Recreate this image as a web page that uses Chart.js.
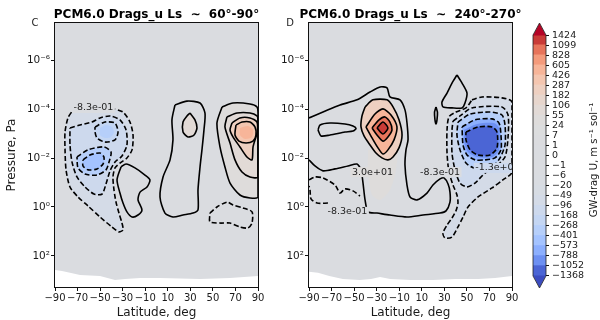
<!DOCTYPE html>
<html><head><meta charset="utf-8">
<script src="https://cdn.jsdelivr.net/npm/chart.js@4.4.1/dist/chart.umd.min.js"></script>
<style>
html,body{margin:0;padding:0;background:#fff;}
#wrap{position:relative;width:600px;height:320px;overflow:hidden;background:#fff;}
.c{position:absolute;top:0;}
</style></head><body>
<div id="wrap">
<canvas id="cL" class="c" width="280" height="320" style="left:0px"></canvas>
<canvas id="cR" class="c" width="260" height="320" style="left:266px"></canvas>
<canvas id="cB" class="c" width="80" height="320" style="left:520px"></canvas>
</div>
<script>
// ---------------- data ----------------
// contour levels of the colour bar (m s-1 sol-1)
const LEVELS = [-1368,-1052,-788,-573,-401,-268,-168,-96,-49,-20,-6,-1,0,1,7,24,55,106,182,287,426,605,828,1099,1424];
const LEVEL_LABELS = LEVELS.map(v => String(v).replace('-', '\u2212'));
// latitude axis
const X_TICKS = [-90,-70,-50,-30,-10,10,30,50,70,90];
const X_TICK_LABELS = X_TICKS.map(v => String(v).replace('-', '\u2212'));
// pressure axis (log10 Pa)
const Y_TICKS = [-6,-4,-2,0,2];
const Y_TICK_LABELS = ['10\u207B\u2076','10\u207B\u2074','10\u207B\u00B2','10\u2070','10\u00B2'];
const Y_RANGE = [-7.54, 3.28];

// surface (log10 Pa) vs latitude, below which there are no data
const leftSurfLat  = [-90,-83.8,-76.7,-67.8,-50.1,-36.8,-27.9,-14.6,3.1,38.6,65.2,90];
const leftSurfLogP = [2.58,2.62,2.70,2.79,2.83,2.99,2.95,2.91,2.91,2.95,2.91,2.83];
const rightSurfLat  = [-90,-82,-72,-60,-45,-35,-27,-18,0,20,40,60,75,90];
const rightSurfLogP = [2.66,2.70,2.83,2.95,2.99,2.95,2.87,2.95,2.99,2.99,2.95,2.95,2.91,2.83];

// ---- panel C (Ls 60-90): contours as [lat, log10 p] ----
const leftN1 = [[-74.0,-3.98],[-54.5,-4.02],[-38.6,-4.02],[-29.7,-3.89],[-23.5,-3.48],[-20.8,-2.95],[-21.7,-2.34],[-26.2,-2.01],[-32.4,-1.80],[-36.8,-1.60],[-38.6,-1.23],[-37.7,-0.70],[-35.9,-0.20],[-33.3,0.25],[-30.6,0.66],[-29.7,0.94],[-33.3,1.02],[-39.5,0.82],[-50.1,0.41],[-60.7,-0.04],[-69.6,-0.41],[-76.7,-0.82],[-80.2,-1.52],[-81.1,-2.34],[-81.1,-3.07],[-78.5,-3.65]];
const leftN2 = [[-76.7,-3.24],[-67.8,-3.36],[-57.2,-3.48],[-50.1,-3.65],[-41.2,-3.73],[-32.4,-3.57],[-27.0,-3.16],[-26.2,-2.54],[-30.6,-2.09],[-36.8,-1.84],[-41.2,-1.48],[-44.8,-0.94],[-48.3,-0.53],[-55.4,-0.53],[-63.4,-0.82],[-70.5,-1.23],[-74.9,-1.84],[-76.7,-2.54]];
const leftU1 = [[-54.5,-3.28],[-45.7,-3.48],[-36.8,-3.44],[-34.1,-3.07],[-36.8,-2.75],[-45.7,-2.66],[-52.8,-2.83],[-54.5,-3.07]];
const leftU1core = [[-50.1,-3.24],[-44.8,-3.36],[-39.5,-3.28],[-37.7,-3.07],[-40.3,-2.87],[-45.7,-2.83],[-50.1,-2.95]];
const leftL1 = [[-70.5,-2.05],[-60.7,-2.34],[-46.6,-2.46],[-40.3,-2.25],[-42.1,-1.84],[-44.8,-1.52],[-52.8,-1.31],[-63.4,-1.35],[-69.6,-1.60]];
const leftL2 = [[-65.2,-1.93],[-59.0,-2.13],[-50.1,-2.21],[-46.6,-2.05],[-47.4,-1.76],[-52.8,-1.56],[-60.7,-1.52],[-65.2,-1.68]];
const leftA = [[-31.5,-1.64],[-27.0,-1.76],[-19.1,-1.60],[-10.2,-1.31],[-5.8,-1.11],[-8.4,-0.82],[-14.6,-0.61],[-16.4,-0.29],[-12.9,0.12],[-16.4,0.33],[-21.7,0.41],[-26.2,0.20],[-29.7,-0.16],[-32.4,-0.57],[-35.0,-1.11]];
const leftB = [[16.4,-4.18],[27.0,-4.34],[38.6,-4.26],[43.0,-3.85],[42.1,-3.16],[40.3,-2.34],[38.6,-1.64],[36.8,-0.70],[36.8,0.12],[32.4,0.25],[23.5,0.33],[14.6,0.41],[7.5,0.25],[3.1,-0.41],[5.8,-1.23],[12.0,-1.93],[14.6,-2.75],[13.7,-3.57]];
const leftBin = [[29.7,-3.85],[34.1,-3.57],[35.9,-3.24],[33.3,-2.95],[27.9,-2.87],[23.5,-3.07],[23.5,-3.48],[27.0,-3.73]];
const leftP1 = [[58.1,-4.10],[67.8,-4.26],[82.9,-4.22],[89.1,-4.10],[90,-3.85],[90,-0.41],[82.9,-0.37],[74.0,-0.49],[65.2,-0.98],[60.7,-1.64],[56.3,-2.46],[53.6,-3.44]];
const leftP2 = [[62.5,-3.69],[71.4,-3.85],[82.9,-3.85],[89.1,-3.73],[90,-3.57],[90,-1.23],[82.9,-1.23],[75.8,-1.43],[69.6,-1.93],[65.2,-2.62],[60.7,-3.28]];
const leftP3 = [[66.9,-3.44],[74.0,-3.65],[82.9,-3.65],[89.1,-3.48],[89.1,-3.03],[85.6,-2.46],[84.7,-1.93],[80.2,-2.05],[74.0,-2.46],[67.8,-2.87],[65.2,-3.16]];
const leftP4 = [[70.5,-3.36],[75.8,-3.48],[82.9,-3.48],[87.3,-3.28],[88.2,-2.95],[85.6,-2.70],[79.4,-2.62],[73.1,-2.70],[69.6,-2.95]];
const leftPcore = [[74.0,-3.24],[81.1,-3.32],[85.6,-3.16],[84.7,-2.87],[78.5,-2.79],[74.0,-2.95]];
const leftD = [[47.4,0.25],[53.6,0],[62.5,-0.20],[67.8,-0.08],[76.7,0.04],[84.7,0.20],[84.7,0.66],[81.1,0.86],[74.0,0.82],[65.2,0.66],[56.3,0.66],[47.4,0.61]];

// ---- panel D (Ls 240-270) ----
const rightC1 = [[-90,-3.65],[-77.6,-3.89],[-62.5,-4.18],[-47.4,-4.39],[-35.9,-4.71],[-27.0,-4.92],[-20.8,-4.88],[-18.2,-4.51],[-9.3,-4.39],[-4.9,-3.98],[-3.1,-3.44],[-2.2,-2.75],[-4.0,-2.34],[-4.9,-1.72],[-3.1,-0.90],[-0.4,-0.41],[5.8,-0.29],[14.6,-0.57],[19.9,-0.90],[26.2,-1.15],[29.7,-1.19],[33.3,-0.94],[35.0,-0.61],[35.0,-0.20],[31.5,0.16],[26.2,0.25],[11.1,0.33],[-3.1,0.41],[-18.2,0.33],[-29.7,0.25],[-37.7,0.20],[-40.3,-0.29],[-42.1,-0.98],[-43.9,-1.52],[-47.4,-1.76],[-55.4,-1.68],[-66.9,-1.56],[-77.6,-1.48],[-84.7,-1.68],[-90,-1.93]];
const rightStreak = [[-37.7,-2.34],[-12.9,-2.34],[-12.9,-1.52],[-18.2,-0.70],[-27.0,-0.29],[-34.1,-0.49],[-37.7,-1.31]];
const rightTongue = [[-82.0,-3.16],[-80.2,-3.36],[-71.4,-3.44],[-58.1,-3.40],[-51.0,-3.32],[-48.3,-3.22],[-51.0,-3.11],[-58.1,-3.07],[-71.4,-2.95],[-79.4,-2.91]];
const rightC2 = [[-40.3,-4.10],[-33.3,-4.39],[-20.8,-4.39],[-15.5,-4.10],[-10.2,-3.57],[-7.5,-2.95],[-10.2,-2.42],[-15.5,-2.05],[-20.0,-1.93],[-25.3,-2.01],[-30.6,-2.21],[-35.9,-2.54],[-41.2,-2.91],[-43.9,-3.28],[-43.0,-3.73]];
const rightC3 = [[-39.5,-3.28],[-31.5,-3.81],[-24.4,-4.02],[-17.3,-3.77],[-12.0,-3.28],[-14.6,-2.75],[-20.0,-2.34],[-24.4,-2.17],[-28.8,-2.42],[-34.1,-2.83]];
const rightC4 = [[-34.1,-3.24],[-27.9,-3.57],[-22.6,-3.69],[-18.2,-3.48],[-16.4,-3.16],[-20.0,-2.87],[-24.4,-2.70],[-29.7,-2.95]];
const rightC5 = [[-29.7,-3.24],[-24.4,-3.48],[-20.0,-3.24],[-24.4,-2.99]];
const rightTri = [[41.2,-5.41],[45.7,-5.08],[50.1,-4.67],[48.3,-4.26],[45.7,-4.06],[36.8,-4.06],[28.8,-4.10],[27.9,-4.30],[32.4,-4.67],[36.8,-5.08]];
const rightSpike = [[22.6,-4.10],[23.9,-3.89],[23.5,-3.57],[22.6,-3.40],[21.7,-3.57],[21.3,-3.89]];
const rightD1 = [[54.5,-4.39],[63.4,-4.51],[81.1,-4.47],[90,-4.30],[90,-1.43],[81.9,-1.11],[72.3,-0.78],[59.9,-0.41],[51.0,0],[46.6,0.41],[42.1,0.82],[36.8,1.23],[30.6,1.27],[28.8,1.07],[32.4,0.74],[36.8,0.45],[40.3,0.16],[42.1,-0.16],[41.2,-0.49],[37.7,-0.90],[34.1,-1.43],[32.4,-2.21],[32.4,-3.16],[34.1,-3.69],[40.3,-3.89],[49.2,-4.06]];
const rightD2 = [[37.7,-3.52],[43.9,-3.73],[54.5,-4.06],[81.1,-4.10],[86.5,-3.77],[86.5,-2.87],[83.8,-2.05],[74.9,-1.64],[66.1,-1.39],[57.2,-0.98],[50.1,-0.82],[43.9,-0.98],[39.5,-1.52],[36.8,-2.21],[36.8,-3.16]];
const rightD3 = [[42.1,-3.48],[52.8,-3.81],[70.5,-3.89],[81.1,-3.77],[83.8,-3.36],[83.8,-2.54],[79.4,-2.01],[74.0,-1.72],[65.2,-1.64],[56.3,-1.60],[49.2,-1.80],[43.9,-2.34],[41.2,-2.95]];
const rightD4 = [[45.7,-3.28],[57.2,-3.57],[72.3,-3.61],[78.5,-3.44],[80.2,-2.95],[80.2,-2.34],[74.9,-2.01],[66.1,-1.93],[57.2,-1.93],[50.1,-2.13],[46.6,-2.54]];
const rightD45 = [[47.5,-3.16],[59.0,-3.40],[74.0,-3.44],[78.5,-3.24],[78.5,-2.34],[72.3,-2.05],[59.0,-2.05],[51.0,-2.25],[47.5,-2.66]];
const rightD5 = [[49.2,-3.07],[59.9,-3.28],[72.3,-3.28],[76.7,-3.07],[76.7,-2.42],[70.5,-2.13],[59.9,-2.13],[52.8,-2.34],[49.2,-2.75]];
const rightSeg1 = [[-90,-1.11],[-84.7,-1.23],[-77.6,-1.19],[-66.9,-0.90],[-62.5,-0.57],[-58.1,-0.74],[-51.0,-0.66],[-44.8,-0.45]];
const rightSeg2 = [[-73.2,-0.16],[-82.9,-0.16],[-88.2,-0.33],[-89.1,-0.70],[-90,-0.86]];

// contour labels
const leftLabelText = ['-8.3e-01'];
const leftLabelLat  = [-55.9];
const leftLabelLogP = [-4.06];
const leftLabelBg   = [0.5];
const rightLabelText = ['3.0e+01','-8.3e-01','-8.3e-01','-1.3e+01'];
const rightLabelLat  = [-33.7,-55.9,26.2,77.1];
const rightLabelLogP = [-1.43,0.20,-1.43,-1.60];
const rightLabelBg   = [30,0.5,0.5,-130];

// ---------------- style ----------------
const FONT = "'DejaVu Sans', sans-serif";
const COOLWARM = [[59,76,192],[68,90,204],[77,104,215],[87,117,225],[98,130,234],[108,142,241],[119,154,247],[130,165,251],[141,176,254],[152,185,255],[163,194,255],[174,201,253],[184,208,249],[194,213,244],[204,217,238],[213,219,230],[221,221,221],[229,216,209],[236,211,197],[241,204,185],[245,196,173],[247,187,160],[247,177,148],[247,166,135],[244,154,123],[241,141,111],[236,127,99],[229,112,88],[222,96,77],[213,80,66],[203,62,56],[192,40,47],[180,4,38]];
function coolwarm(t) {
  t = Math.max(0, Math.min(1, t));
  const f = t * (COOLWARM.length - 1);
  const i = Math.min(COOLWARM.length - 2, Math.floor(f));
  const r = f - i, a = COOLWARM[i], b = COOLWARM[i + 1];
  return 'rgb(' + [0,1,2].map(k => Math.round(a[k] + (b[k] - a[k]) * r)).join(',') + ')';
}
function bandIndexColor(i) {
  const mid = (LEVELS[i] + LEVELS[i + 1]) / 2;
  return coolwarm((mid - LEVELS[0]) / (LEVELS[LEVELS.length - 1] - LEVELS[0]));
}
function bandColor(v) {
  let i = 0;
  while (i < LEVELS.length - 2 && v >= LEVELS[i + 1]) i++;
  return bandIndexColor(i);
}

function mkDs(pts, opt) {
  const closed = opt.closed !== false;
  const data = pts.map(p => ({x: p[0], y: p[1]}));
  if (closed) data.push({x: pts[0][0], y: pts[0][1]});
  return {
    data, showLine: true, pointRadius: 0, pointHoverRadius: 0,
    borderColor: opt.line ? '#000' : 'rgba(0,0,0,0)',
    borderWidth: opt.line ? 1.6 : 0,
    borderDash: opt.line === 'dash' ? [5, 2.5] : [],
    tension: opt.tension !== undefined ? opt.tension : 0.25,
    fill: false,
    fillColor: opt.value !== undefined ? bandColor(opt.value) : null
  };
}
function bgPts(lat, logp) {
  const p = [[X_TICKS[0], Y_RANGE[0]], [X_TICKS[X_TICKS.length - 1], Y_RANGE[0]]];
  for (let i = lat.length - 1; i >= 0; i--) p.push([lat[i], logp[i]]);
  return p;
}

const leftDatasets = [
  mkDs(bgPts(leftSurfLat, leftSurfLogP), {value: 0.5, tension: 0}),
  mkDs(leftN1, {value: -70, line: 'dash'}),
  mkDs(leftN2, {value: -130, line: 'dash'}),
  mkDs(leftU1, {value: -200, line: 'dash'}),
  mkDs(leftU1core, {value: -300}),
  mkDs(leftL1, {value: -300, line: 'dash'}),
  mkDs(leftL2, {value: -450, line: 'dash'}),
  mkDs(leftA, {line: 'solid'}),
  mkDs(leftB, {line: 'solid'}),
  mkDs(leftBin, {value: 80, line: 'solid'}),
  mkDs(leftP1, {value: 30, line: 'solid'}),
  mkDs(leftP2, {value: 80, line: 'solid'}),
  mkDs(leftP3, {value: 200, line: 'solid'}),
  mkDs(leftP4, {value: 350, line: 'solid'}),
  mkDs(leftPcore, {value: 500}),
  mkDs(leftD, {line: 'dash'})
];
const rightDatasets = [
  mkDs(bgPts(rightSurfLat, rightSurfLogP), {value: 0.5, tension: 0}),
  mkDs(rightC1, {line: 'solid', closed: false}),
  mkDs(rightStreak, {value: 30}),
  mkDs(rightTongue, {line: 'solid'}),
  mkDs(rightC2, {value: 200, line: 'solid'}),
  mkDs(rightC3, {value: 500, line: 'solid'}),
  mkDs(rightC4, {value: 900, line: 'solid'}),
  mkDs(rightC5, {value: 1200, line: 'solid'}),
  mkDs(rightTri, {line: 'solid'}),
  mkDs(rightSpike, {line: 'solid', tension: 0.1}),
  mkDs(rightD1, {value: -70, line: 'dash'}),
  mkDs(rightD2, {value: -130, line: 'dash'}),
  mkDs(rightD3, {value: -300, line: 'dash'}),
  mkDs(rightD4, {value: -650, line: 'dash'}),
  mkDs(rightD45, {value: -900}),
  mkDs(rightD5, {value: -1200, line: 'dash'}),
  mkDs(rightSeg1, {line: 'dash', closed: false}),
  mkDs(rightSeg2, {line: 'dash', closed: false})
];

// ---------------- plugins ----------------
const fillPlugin = {
  id: 'contourFill',
  beforeDatasetsDraw(chart) {
    const {ctx, chartArea: a} = chart;
    ctx.save();
    ctx.beginPath(); ctx.rect(a.left, a.top, a.right - a.left, a.bottom - a.top); ctx.clip();
    chart.data.datasets.forEach((d, i) => {
      if (!d.fillColor) return;
      const line = chart.getDatasetMeta(i).dataset;
      ctx.beginPath();
      let ok = false;
      try {
        if (line && typeof line.path === 'function') {
          if (typeof line.updateControlPoints === 'function') line.updateControlPoints(a, 'x');
          line.path(ctx);
          ok = true;
        }
      } catch (e) { ok = false; }
      if (!ok) {
        ctx.beginPath();
        const xs = chart.scales.x, ys = chart.scales.y;
        d.data.forEach((p, j) => {
          const X = xs.getPixelForValue(p.x), Y = ys.getPixelForValue(p.y);
          if (j) ctx.lineTo(X, Y); else ctx.moveTo(X, Y);
        });
      }
      ctx.closePath();
      ctx.fillStyle = d.fillColor;
      ctx.fill();
    });
    ctx.restore();
  }
};

function decorPlugin(title, letter, letterX, texts, lats, logps, bgs) {
  return {
    id: 'decor',
    afterDatasetsDraw(chart) {
      const {ctx, chartArea: a, scales: {x, y}} = chart;
      ctx.save();
      ctx.beginPath(); ctx.rect(a.left, a.top, a.right - a.left, a.bottom - a.top); ctx.clip();
      ctx.font = '9.5px ' + FONT; ctx.textAlign = 'center'; ctx.textBaseline = 'middle';
      texts.forEach((t, i) => {
        const px = x.getPixelForValue(lats[i]), py = y.getPixelForValue(logps[i]);
        const w = ctx.measureText(t).width;
        ctx.fillStyle = bandColor(bgs[i]);
        ctx.fillRect(px - w / 2 - 1.5, py - 5, w + 3, 10);
        ctx.fillStyle = '#222';
        ctx.fillText(t, px, py);
      });
      ctx.restore();
      ctx.save();
      ctx.strokeStyle = '#111'; ctx.lineWidth = 1;
      ctx.strokeRect(a.left - 0.5, a.top - 0.5, a.right - a.left + 1, a.bottom - a.top + 1);
      ctx.restore();
    },
    afterDraw(chart) {
      const {ctx, chartArea: a} = chart;
      ctx.save();
      ctx.fillStyle = '#000';
      ctx.font = 'bold 12px ' + FONT; ctx.textAlign = 'center'; ctx.textBaseline = 'alphabetic';
      ctx.fillText(title, (a.left + a.right) / 2, 18);
      ctx.fillStyle = '#222';
      ctx.font = '10px ' + FONT; ctx.textBaseline = 'middle';
      ctx.fillText(letter, letterX, 23.5);
      ctx.restore();
    }
  };
}

function panelOptions(yWidth, rightPad, yTitle) {
  return {
    responsive: false, animation: false, events: [],
    layout: {padding: {left: 0, right: rightPad, top: 23, bottom: 0}},
    plugins: {legend: {display: false}, tooltip: {enabled: false}, title: {display: false}},
    scales: {
      x: {
        type: 'linear', min: X_TICKS[0], max: X_TICKS[X_TICKS.length - 1],
        afterFit: s => { s.height = 33; },
        afterBuildTicks: s => { s.ticks = X_TICKS.map(v => ({value: v})); },
        ticks: {autoSkip: false, maxRotation: 0, minRotation: 0, padding: 1, color: '#1a1a1a',
                font: {family: FONT, size: 10}, callback: (v, i) => X_TICK_LABELS[i]},
        grid: {display: true, drawOnChartArea: false, drawTicks: true, tickLength: 4, color: '#111', lineWidth: 1},
        border: {display: false},
        title: {display: true, text: 'Latitude, deg', color: '#1a1a1a', font: {family: FONT, size: 12}, padding: {top: 0, bottom: 0}}
      },
      y: {
        type: 'linear', min: Y_RANGE[0], max: Y_RANGE[1], reverse: true,
        afterFit: s => { s.width = yWidth; },
        afterBuildTicks: s => { s.ticks = Y_TICKS.map(v => ({value: v})); },
        ticks: {autoSkip: false, padding: 1, color: '#1a1a1a', font: {family: FONT, size: 10.5},
                callback: (v, i) => Y_TICK_LABELS[i]},
        grid: {display: true, drawOnChartArea: false, drawTicks: true, tickLength: 4, color: '#111', lineWidth: 1},
        border: {display: false},
        title: {display: !!yTitle, text: yTitle || '', color: '#1a1a1a', font: {family: FONT, size: 12}, padding: {top: 5, bottom: 0}}
      }
    }
  };
}

new Chart(document.getElementById('cL'), {
  type: 'scatter',
  data: {datasets: leftDatasets},
  options: panelOptions(55, 22, 'Pressure, Pa'),
  plugins: [fillPlugin, decorPlugin('PCM6.0 Drags_u Ls  \u223C  60\u00B0-90\u00B0', 'C', 35, leftLabelText, leftLabelLat, leftLabelLogP, leftLabelBg)]
});
new Chart(document.getElementById('cR'), {
  type: 'scatter',
  data: {datasets: rightDatasets},
  options: panelOptions(43, 14, null),
  plugins: [fillPlugin, decorPlugin('PCM6.0 Drags_u Ls  \u223C  240\u00B0-270\u00B0', 'D', 24, rightLabelText, rightLabelLat, rightLabelLogP, rightLabelBg)]
});

// ---------------- colour bar ----------------
const CB_EXT = 1.2; // extension triangles, in level steps
const cbPlugin = {
  id: 'cbDecor',
  afterDatasetsDraw(chart) {
    const {ctx, chartArea: a, scales: {y}} = chart;
    const l = a.left, r = a.right, cx = (l + r) / 2;
    const n = LEVELS.length - 1;
    const y0 = y.getPixelForValue(0), yN = y.getPixelForValue(n);
    const yTop = y.getPixelForValue(n + CB_EXT), yBot = y.getPixelForValue(-CB_EXT);
    ctx.save();
    ctx.fillStyle = coolwarm(1);
    ctx.beginPath(); ctx.moveTo(l, yN + 0.5); ctx.lineTo(cx, yTop); ctx.lineTo(r, yN + 0.5); ctx.closePath(); ctx.fill();
    ctx.fillStyle = coolwarm(0);
    ctx.beginPath(); ctx.moveTo(l, y0 - 0.5); ctx.lineTo(cx, yBot); ctx.lineTo(r, y0 - 0.5); ctx.closePath(); ctx.fill();
    ctx.strokeStyle = '#222'; ctx.lineWidth = 0.8;
    ctx.beginPath(); ctx.moveTo(l, y0); ctx.lineTo(l, yN); ctx.lineTo(cx, yTop); ctx.lineTo(r, yN);
    ctx.lineTo(r, y0); ctx.lineTo(cx, yBot); ctx.closePath(); ctx.stroke();
    ctx.restore();
  },
  afterDraw(chart) {
    const ctx = chart.ctx;
    ctx.save();
    ctx.translate(74, 160); ctx.rotate(-Math.PI / 2);
    ctx.fillStyle = '#1a1a1a'; ctx.font = '10px ' + FONT; ctx.textAlign = 'center'; ctx.textBaseline = 'middle';
    ctx.fillText('GW-drag U, m s\u207B\u00B9 sol\u207B\u00B9', 0, 0);
    ctx.restore();
  }
};
new Chart(document.getElementById('cB'), {
  type: 'bar',
  data: {
    labels: ['cb'],
    datasets: LEVELS.slice(0, -1).map((v, i) => ({
      data: [1], backgroundColor: bandIndexColor(i), borderWidth: 0,
      barPercentage: 1, categoryPercentage: 1, stack: 's', inflateAmount: 0.6
    }))
  },
  options: {
    responsive: false, animation: false, events: [],
    layout: {padding: {left: 13, right: 0, top: 23, bottom: 32}},
    plugins: {legend: {display: false}, tooltip: {enabled: false}},
    scales: {
      x: {display: false, stacked: true},
      y: {
        stacked: true, position: 'right', min: -CB_EXT, max: LEVELS.length - 1 + CB_EXT,
        afterFit: s => { s.width = 54; },
        afterBuildTicks: s => { s.ticks = LEVELS.map((v, i) => ({value: i})); },
        ticks: {autoSkip: false, padding: 3, color: '#1a1a1a', font: {family: FONT, size: 9.5},
                callback: (v, i) => LEVEL_LABELS[i]},
        grid: {display: true, drawOnChartArea: false, drawTicks: true, tickLength: 3, color: '#111'},
        border: {display: false}
      }
    }
  },
  plugins: [cbPlugin]
});
</script>
</body></html>
